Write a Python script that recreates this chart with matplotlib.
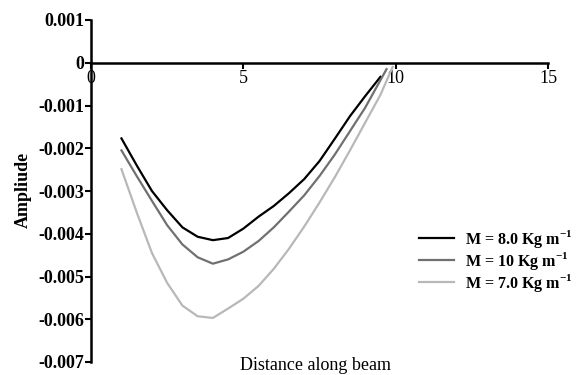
import matplotlib
matplotlib.use("Agg")
import matplotlib.pyplot as plt
from matplotlib.ticker import FixedLocator, FixedFormatter

# distance along beam
x_m8 = [1.0, 1.5, 2.0, 2.5, 3.0, 3.5, 4.0, 4.5, 5.0, 5.5, 6.0, 6.5, 7.0, 7.5, 8.0, 8.5, 9.0, 9.5]
y_m8 = [-1.77, -2.4, -3.0, -3.45, -3.85, -4.07, -4.15, -4.1, -3.88, -3.6, -3.35, -3.05,
        -2.72, -2.3, -1.78, -1.25, -0.78, -0.33]

x_m10 = [1.0, 1.5, 2.0, 2.5, 3.0, 3.5, 4.0, 4.5, 5.0, 5.5, 6.0, 6.5, 7.0, 7.5, 8.0, 8.5, 9.0, 9.7]
y_m10 = [-2.05, -2.65, -3.23, -3.8, -4.25, -4.55, -4.7, -4.6, -4.42, -4.17, -3.85, -3.48,
         -3.1, -2.65, -2.15, -1.6, -1.05, -0.15]

x_m7 = [1.0, 1.5, 2.0, 2.5, 3.0, 3.5, 4.0, 4.5, 5.0, 5.5, 6.0, 6.5, 7.0, 7.5, 8.0, 8.5, 9.0, 9.5, 9.9]
y_m7 = [-2.49, -3.5, -4.45, -5.15, -5.68, -5.93, -5.97, -5.75, -5.52, -5.22, -4.82, -4.35,
        -3.83, -3.27, -2.68, -2.05, -1.4, -0.75, -0.1]

labels = ["M = 8.0 Kg m$^{\\mathregular{-1}}$",
          "M = 10 Kg m$^{\\mathregular{-1}}$",
          "M = 7.0 Kg m$^{\\mathregular{-1}}$"]

x_ticks = [0, 5, 10, 15]
y_ticks = [0.001, 0, -0.001, -0.002, -0.003, -0.004, -0.005, -0.006, -0.007]
y_tick_labels = ["0.001", "0", "-0.001", "-0.002", "-0.003", "-0.004", "-0.005", "-0.006", "-0.007"]

plt.rcParams['font.family'] = ['Liberation Serif', 'DejaVu Serif']
plt.rcParams['mathtext.fontset'] = 'custom'
plt.rcParams['mathtext.rm'] = 'Liberation Serif:bold'

fig = plt.figure(figsize=(5.87, 3.75), dpi=100)
ax = fig.add_axes([91 / 587, 1 - 362 / 375, (548 - 91) / 587, (362 - 20) / 375])

ax.plot(x_m8, [v * 1e-3 for v in y_m8], color='#000000', lw=1.6, label=labels[0])
ax.plot(x_m10, [v * 1e-3 for v in y_m10], color='#707070', lw=1.6, label=labels[1])
ax.plot(x_m7, [v * 1e-3 for v in y_m7], color='#b8b8b8', lw=1.6, label=labels[2])

ax.set_xlim(0, 15)
ax.set_ylim(-0.007, 0.001)

for s in ['top', 'right']:
    ax.spines[s].set_visible(False)
ax.spines['bottom'].set_position(('data', 0))
ax.spines['left'].set_linewidth(1.8)
ax.spines['bottom'].set_linewidth(1.8)

ax.xaxis.set_major_locator(FixedLocator(x_ticks))
ax.yaxis.set_major_locator(FixedLocator(y_ticks))
ax.yaxis.set_major_formatter(FixedFormatter(y_tick_labels))
ax.tick_params(axis='both', direction='out', length=4, width=1.5, labelsize=13)
ax.tick_params(axis='y', pad=1)
ax.tick_params(axis='x', pad=1)
for t in ax.get_yticklabels():
    t.set_fontweight('bold')

fig.text(23 / 587, 1 - 190 / 375, "Ampliude", rotation=90, fontsize=13,
         fontweight='bold', ha='center', va='center')
fig.text(316 / 587, 1 - 366 / 375, "Distance along beam", fontsize=13,
         ha='center', va='center')

leg = ax.legend(loc='upper left', bbox_to_anchor=(419 / 587, 1 - 228 / 375),
                bbox_transform=fig.transFigure, frameon=False, fontsize=11.5,
                handlelength=2.2, handletextpad=0.7, labelspacing=0.0,
                borderaxespad=0, borderpad=0)
for t in leg.get_texts():
    t.set_fontweight('bold')

fig.savefig('out.png', dpi=100)
